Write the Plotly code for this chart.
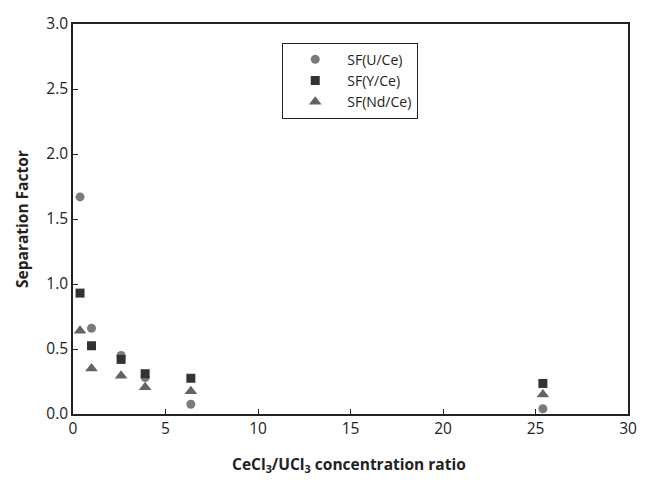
import plotly.graph_objects as go

ratio = [0.38, 1.0, 2.6, 3.9, 6.37, 25.4]
sf_u = [1.67, 0.66, 0.45, 0.28, 0.075, 0.04]
sf_y = [0.93, 0.525, 0.42, 0.31, 0.275, 0.235]
sf_nd = [0.64, 0.35, 0.295, 0.205, 0.175, 0.15]

names = ["SF(U/Ce)", "SF(Y/Ce)", "SF(Nd/Ce)"]
x_title = "<b>CeCl<sub>3</sub>/UCl<sub>3</sub> concentration ratio</b>"
y_title = "<b>Separation Factor</b>"

fig = go.Figure()
fig.add_trace(go.Scatter(x=ratio, y=sf_u, mode="markers", name=names[0],
                         marker=dict(symbol="circle", size=9, color="#7a7a7a")))
fig.add_trace(go.Scatter(x=ratio, y=sf_y, mode="markers", name=names[1],
                         marker=dict(symbol="square", size=9, color="#333333")))
fig.add_trace(go.Scatter(x=ratio, y=sf_nd, mode="markers", name=names[2],
                         marker=dict(symbol="triangle-up", size=11, color="#636363")))

font_family = "Open Sans, Noto Sans, sans-serif"
fig.update_layout(
    width=654, height=480,
    margin=dict(l=73, r=26, t=19, b=66),
    paper_bgcolor="white", plot_bgcolor="white",
    font=dict(family=font_family, size=15.5, color="#222222"),
    showlegend=True,
    legend=dict(x=0.377, y=0.952, xanchor="left", yanchor="top",
                bordercolor="#222222", borderwidth=1, bgcolor="white",
                font=dict(size=14, color="#222222"), itemwidth=54,
                tracegroupgap=0),
    xaxis=dict(range=[0, 30], tickvals=[0, 5, 10, 15, 20, 25, 30],
               ticks="inside", ticklen=5, tickcolor="#222222",
               showline=True, linecolor="#222222", linewidth=1.5, mirror=True,
               showgrid=False, zeroline=False),
    yaxis=dict(range=[0, 3], tickvals=[0, 0.5, 1, 1.5, 2, 2.5, 3], tickformat=".1f",
               ticks="inside", ticklen=5, tickcolor="#222222",
               showline=True, linecolor="#222222", linewidth=1.5, mirror=True,
               showgrid=False, zeroline=False),
    annotations=[
        dict(text=y_title, textangle=-90, xref="paper", yref="paper",
             x=-0.092, y=0.5, xanchor="center", yanchor="middle",
             showarrow=False, font=dict(size=15.5, color="#222222")),
        dict(text=x_title, xref="paper", yref="paper",
             x=0.497, y=-0.129, xanchor="center", yanchor="middle",
             showarrow=False, font=dict(size=15.5, color="#222222")),
    ],
)

fig.write_html("out.html", config={"displayModeBar": False},
               post_script="document.body.style.margin='0';document.body.style.padding='0';")
